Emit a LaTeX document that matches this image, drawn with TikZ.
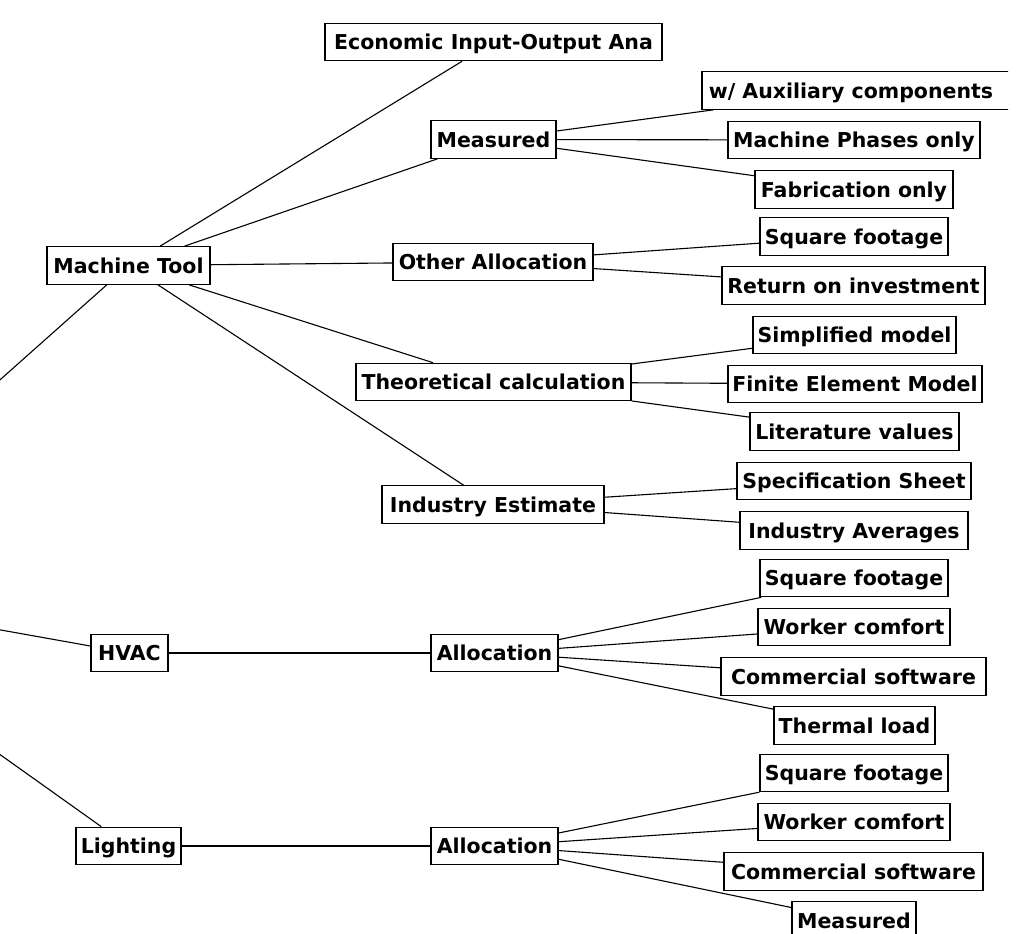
\documentclass[tikz,border=0pt]{standalone}
\usepackage{fontspec}
\setmainfont{DejaVu Sans}
\begin{document}
\begin{tikzpicture}[x=1pt,y=-1pt,
  box/.style={draw, line width=1.2pt, inner sep=0pt, minimum height=37.5pt,
    font=\bfseries\fontsize{20.5}{24}\selectfont, text depth=4pt, text height=19.5pt},
  link/.style={line width=1.1pt}]
\useasboundingbox (0,0) rectangle (1029,934);
\clip (0,0) rectangle (1008,934);
\coordinate (root) at (-234,588);
% level 1
\node[box, minimum width=163] (mt) at (128.5,265.5) {Machine Tool};
\node[box, minimum width=77] (hvac) at (129.5,653) {HVAC};
\node[box, minimum width=105] (light) at (128.5,846) {Lighting};
% level 2
\node[box, minimum width=337] (eco) at (493.5,42) {Economic Input-Output Ana};
\node[box, minimum width=125] (meas) at (493.5,139.5) {Measured};
\node[box, minimum width=200] (oa) at (493,262) {Other Allocation};
\node[box, minimum width=275] (tc) at (493.5,382) {Theoretical calculation};
\node[box, minimum width=222] (ie) at (493,504.5) {Industry Estimate};
\node[box, minimum width=127] (al1) at (494.5,653) {Allocation};
\node[box, minimum width=127] (al2) at (494.5,846) {Allocation};
% level 3
\node[box, minimum width=310] (aux) at (857,90.5) {\hspace*{-12pt}w/ Auxiliary components};
\node[box, minimum width=252] (mpo) at (854,140) {Machine Phases only};
\node[box, minimum width=198] (fab) at (854,189.5) {Fabrication only};
\node[box, minimum width=188] (sq1) at (854,236.5) {Square footage};
\node[box, minimum width=263] (roi) at (853.5,285.5) {Return on investment};
\node[box, minimum width=203] (sm) at (854.5,335) {Simplified model};
\node[box, minimum width=254] (fem) at (855,384) {Finite Element Model};
\node[box, minimum width=209] (lit) at (854.5,431.5) {Literature values};
\node[box, minimum width=234] (ss) at (854,481) {Specification Sheet};
\node[box, minimum width=228] (ia) at (854,530.5) {Industry Averages};
\node[box, minimum width=188] (sq2) at (854,578) {Square footage};
\node[box, minimum width=192] (wc1) at (854,627) {Worker comfort};
\node[box, minimum width=265] (cs1) at (853.5,676.5) {Commercial software};
\node[box, minimum width=161] (tl) at (854.5,725.5) {Thermal load};
\node[box, minimum width=188] (sq3) at (854,773) {Square footage};
\node[box, minimum width=192] (wc2) at (854,822) {Worker comfort};
\node[box, minimum width=259] (cs2) at (853.5,871.5) {Commercial software};
\node[box, minimum width=124] (meas2) at (854,920.5) {Measured};
% connectors
\draw[link] (root) -- (mt);
\draw[link] (root) -- (hvac);
\draw[link] (root) -- (light);
\foreach \c in {eco,meas,oa,tc,ie} \draw[link] (mt) -- (\c);
\draw[link] (hvac) -- (al1);
\draw[link] (light) -- (al2);
\foreach \c in {aux,mpo,fab} \draw[link] (meas) -- (\c);
\foreach \c in {sq1,roi} \draw[link] (oa) -- (\c);
\foreach \c in {sm,fem,lit} \draw[link] (tc) -- (\c);
\foreach \c in {ss,ia} \draw[link] (ie) -- (\c);
\foreach \c in {sq2,wc1,cs1,tl} \draw[link] (al1) -- (\c);
\foreach \c in {sq3,wc2,cs2,meas2} \draw[link] (al2) -- (\c);
\end{tikzpicture}
\end{document}
